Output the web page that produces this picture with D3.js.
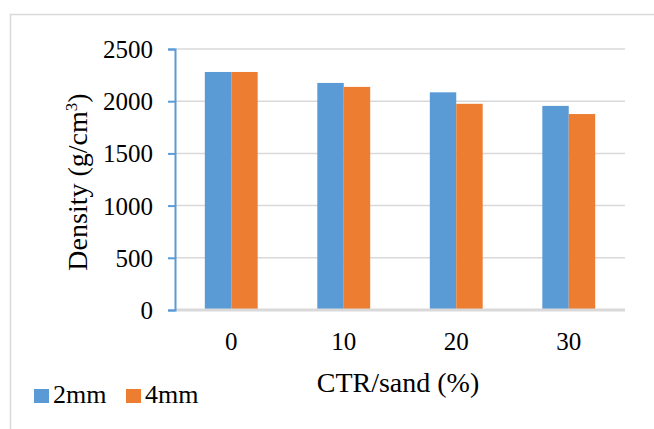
<!DOCTYPE html>
<html>
<head>
<meta charset="utf-8">
<script src="https://cdn.jsdelivr.net/npm/d3@7"></script>
<style>
  body { margin: 0; background: #fff; }
</style>
</head>
<body>
<svg id="chart"></svg>
<script>
// values
const categories = ["0", "10", "20", "30"];
const seriesNames = ["2mm", "4mm"];
const values2mm = [2280, 2175, 2085, 1955];
const values4mm = [2280, 2137, 1975, 1877];
const yTicks = [0, 500, 1000, 1500, 2000, 2500];
const colors = ["#5b9bd5", "#ed7d31"];

const width = 654, height = 429;
const margin = { top: 49, right: 29, bottom: 119, left: 175 };
const serif = "'Liberation Serif', 'Times New Roman', serif";

const svg = d3.select("#chart")
    .attr("width", width)
    .attr("height", height)
    .attr("font-family", serif);

// outer chart frame
svg.append("rect")
    .attr("x", 10.5).attr("y", 14.5)
    .attr("width", width).attr("height", height)
    .attr("fill", "none")
    .attr("stroke", "#d9d9d9")
    .attr("stroke-width", 1.5);

const x0 = d3.scaleBand()
    .domain(categories)
    .range([margin.left, width - margin.right])
    .paddingInner(0.53).paddingOuter(0.265);

const x1 = d3.scaleBand()
    .domain(seriesNames)
    .range([0, x0.bandwidth()]);

const y = d3.scaleLinear()
    .domain([0, 2500])
    .range([height - margin.bottom, margin.top]);

// gridlines
svg.append("g")
    .selectAll("line")
    .data(yTicks.slice(1))
    .join("line")
    .attr("x1", margin.left).attr("x2", width - margin.right)
    .attr("y1", d => y(d)).attr("y2", d => y(d))
    .attr("stroke", "#d9d9d9")
    .attr("stroke-width", 1.5);

// bars
const data = categories.map((c, i) => ({ cat: c, vals: [values2mm[i], values4mm[i]] }));
svg.append("g")
    .selectAll("g")
    .data(data)
    .join("g")
    .attr("transform", d => `translate(${x0(d.cat)},0)`)
    .selectAll("rect")
    .data(d => d.vals.map((v, j) => ({ name: seriesNames[j], v: v, j: j })))
    .join("rect")
    .attr("x", d => x1(d.name))
    .attr("y", d => y(d.v))
    .attr("width", x1.bandwidth())
    .attr("height", d => y(0) - y(d.v))
    .attr("fill", d => colors[d.j]);

// x axis baseline
svg.append("line")
    .attr("x1", margin.left).attr("x2", width - margin.right)
    .attr("y1", y(0)).attr("y2", y(0))
    .attr("stroke", "#d9d9d9")
    .attr("stroke-width", 3);

// y axis
const yAxis = svg.append("g")
    .attr("transform", `translate(${margin.left},0)`)
    .call(d3.axisLeft(y).tickValues(yTicks).tickFormat(d3.format("d")).tickSize(7).tickPadding(15))
    .attr("font-family", serif)
    .attr("font-size", 25);
yAxis.select(".domain").attr("stroke", "#5b9bd5").attr("stroke-width", 2);
yAxis.selectAll(".tick line").attr("stroke", "#5b9bd5").attr("stroke-width", 2);
yAxis.selectAll(".tick text").attr("fill", "#000").attr("dy", "0.34em");

// x tick labels
svg.append("g")
    .selectAll("text")
    .data(categories)
    .join("text")
    .attr("x", d => x0(d) + x0.bandwidth() / 2)
    .attr("y", 350)
    .attr("text-anchor", "middle")
    .attr("font-size", 25)
    .text(d => d);

// axis titles
svg.append("text")
    .attr("x", 398).attr("y", 392)
    .attr("text-anchor", "middle")
    .attr("font-size", 28)
    .text("CTR/sand (%)");

const yTitle = svg.append("text")
    .attr("transform", "translate(87,182) rotate(-90)")
    .attr("text-anchor", "middle")
    .attr("font-size", 28);
yTitle.append("tspan").text("Density (g/cm");
yTitle.append("tspan").attr("font-size", 17).attr("dy", -10).text("3");
yTitle.append("tspan").attr("dy", 10).text(")");

// legend
const legend = svg.append("g")
    .selectAll("g")
    .data(seriesNames)
    .join("g")
    .attr("transform", (d, i) => `translate(${34 + i * 92},389)`);
legend.append("rect")
    .attr("width", 15).attr("height", 14)
    .attr("fill", (d, i) => colors[i]);
legend.append("text")
    .attr("x", 19).attr("y", 14)
    .attr("font-size", 26)
    .text(d => d);
</script>
</body>
</html>
